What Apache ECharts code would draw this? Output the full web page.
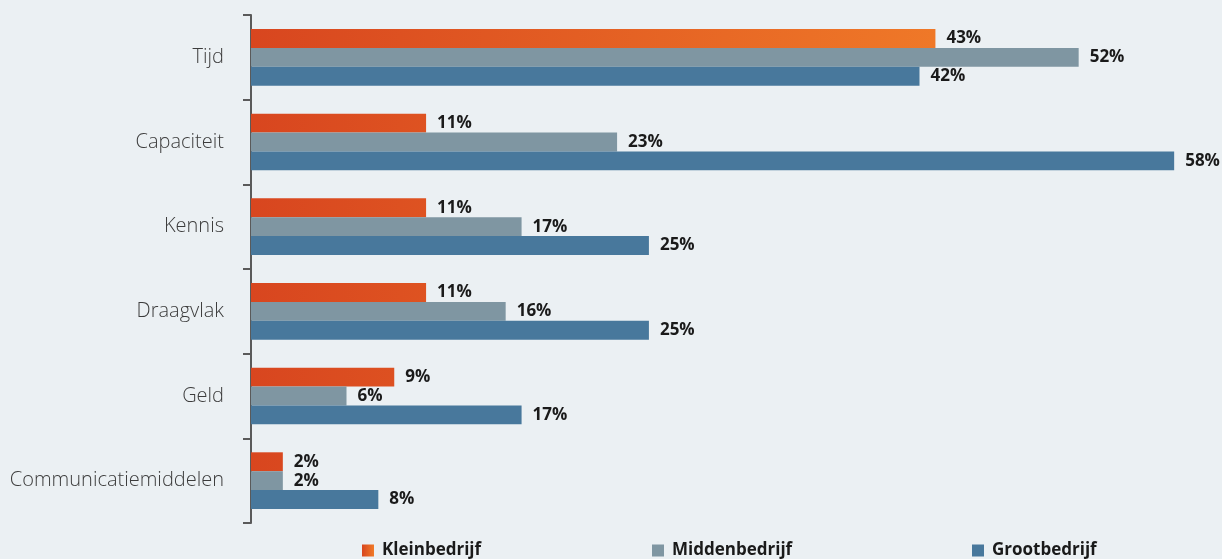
<!DOCTYPE html>
<html>
<head>
<meta charset="utf-8">
<script src="https://cdn.jsdelivr.net/npm/echarts@6/dist/echarts.min.js"></script>
<style>
  html, body { margin: 0; padding: 0; background: #ebf0f3; }
  #main { width: 1222px; height: 559px; }
</style>
</head>
<body>
<div id="main"></div>
<script>
var categories = ['Tijd', 'Capaciteit', 'Kennis', 'Draagvlak', 'Geld', 'Communicatiemiddelen'];
var seriesNames = ['Kleinbedrijf', 'Middenbedrijf', 'Grootbedrijf'];
var klein = [43, 11, 11, 11, 9, 2];
var midden = [52, 23, 17, 16, 6, 2];
var groot = [42, 58, 25, 25, 17, 8];

var myChart = echarts.init(document.getElementById('main'));

// oranje verloop over de hele breedte
var oranje = new echarts.graphic.LinearGradient(0, 0, 0, 0, [
    { offset: 0, color: '#d8461f' },
    { offset: 1, color: '#f07a28' }
]);
oranje.x = 251; oranje.y = 0; oranje.x2 = 960; oranje.y2 = 0; oranje.global = true;

var legendIcon = new echarts.graphic.LinearGradient(0, 0, 1, 0, [
    { offset: 0, color: '#d8461f' },
    { offset: 1, color: '#f07a28' }
]);

var labelStyle = {
    show: true,
    position: 'right',
    distance: 11,
    formatter: '{c}%',
    color: '#1a1a1a',
    fontFamily: 'Open Sans',
    fontWeight: 'bold',
    fontSize: 17
};

function legendAt(left, name, color) {
    return {
        left: left,
        bottom: -5,
        itemWidth: 12,
        itemHeight: 12,
        itemGap: 0,
        icon: 'rect',
        textStyle: { fontFamily: 'Open Sans', fontWeight: 'bold', fontSize: 17, color: '#1a1a1a', padding: [0, 0, 0, 3] },
        data: [{ name: name, itemStyle: { color: color } }]
    };
}

var option = {
    backgroundColor: '#ebf0f3',
    animation: false,
    grid: { left: 251, right: 16, top: 15, bottom: 36 },
    legend: [
        legendAt(357, seriesNames[0], legendIcon),
        legendAt(647, seriesNames[1], '#7f96a2'),
        legendAt(967, seriesNames[2], '#48789c')
    ],
    xAxis: {
        type: 'value',
        min: 0,
        max: 60,
        show: false
    },
    yAxis: {
        type: 'category',
        inverse: true,
        data: categories,
        axisLine: { show: true, lineStyle: { color: '#5a5a5a', width: 2 } },
        axisTick: { show: true, length: 8, lineStyle: { color: '#5a5a5a', width: 2 } },
        axisLabel: { margin: 27, color: '#3c3c3c', fontFamily: 'Open Sans', fontWeight: 300, fontSize: 20 }
    },
    series: [
        { name: seriesNames[0], type: 'bar', data: klein, barGap: 0, barCategoryGap: '33%',
          itemStyle: { color: oranje }, label: labelStyle },
        { name: seriesNames[1], type: 'bar', data: midden, barGap: 0, barCategoryGap: '33%',
          itemStyle: { color: '#7f96a2' }, label: labelStyle },
        { name: seriesNames[2], type: 'bar', data: groot, barGap: 0, barCategoryGap: '33%',
          itemStyle: { color: '#48789c' }, label: labelStyle }
    ]
};
myChart.setOption(option);
</script>
</body>
</html>
